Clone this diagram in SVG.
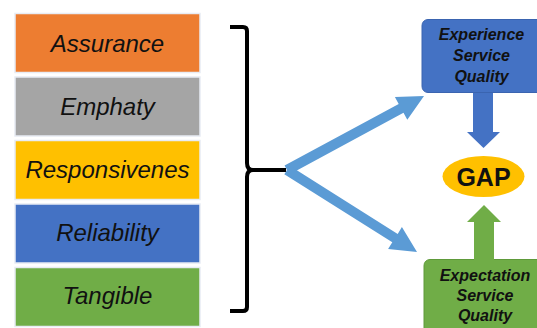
<svg xmlns="http://www.w3.org/2000/svg" width="537" height="328" viewBox="0 0 537 328">
<style>
.box{stroke:#E8ECF4;stroke-width:1.5}
.lt{font-family:"Liberation Sans",Arial,sans-serif;font-style:italic;font-size:24px;fill:#111;text-anchor:middle}
.rt{font-family:"Liberation Sans",Arial,sans-serif;font-style:italic;font-weight:bold;font-size:16px;fill:#111;text-anchor:middle}
.gap{font-family:"Liberation Sans",Arial,sans-serif;font-weight:bold;font-size:25px;fill:#111;text-anchor:middle}
</style>
<rect width="537" height="328" fill="#fff"/>
<g id="assurance"><rect class="box" x="15" y="13.5" width="185" height="59" fill="#ED7D31"/><text class="lt" x="107.5" y="51.5">Assurance</text></g>
<g id="emphaty"><rect class="box" x="15" y="77" width="185" height="59" fill="#A5A5A5"/><text class="lt" x="107.5" y="114.5">Emphaty</text></g>
<g id="responsivenes"><rect class="box" x="15" y="140.5" width="185" height="59" fill="#FFC000"/><text class="lt" x="107.5" y="177.5">Responsivenes</text></g>
<g id="reliability"><rect class="box" x="15" y="204" width="185" height="59" fill="#4472C4"/><text class="lt" x="107.5" y="241">Reliability</text></g>
<g id="tangible"><rect class="box" x="15" y="267.5" width="185" height="59" fill="#70AD47"/><text class="lt" x="107.5" y="304">Tangible</text></g>
<g id="experience"><rect x="422" y="19.5" width="122" height="73" rx="6" fill="#4472C4" stroke="#3A64B0" stroke-width="1"/><text class="rt" x="481.5" y="40">Experience</text><text class="rt" x="481.5" y="61">Service</text><text class="rt" x="481.5" y="82">Quality</text></g>
<g id="gap"><ellipse cx="483.5" cy="176.5" rx="41" ry="20.5" fill="#FFC000"/><text class="gap" x="483.5" y="185.5">GAP</text></g>
<g id="expectation"><rect x="424" y="259.5" width="122" height="75" rx="6" fill="#70AD47" stroke="#5E9A3A" stroke-width="1"/><text class="rt" x="485" y="280.5">Expectation</text><text class="rt" x="485" y="300.5">Service</text><text class="rt" x="485" y="320.5">Quality</text></g>
<g id="connectors">
<path d="M230,27 H243 Q247,27 247,31 V163 Q247,170 253,170 H286 M253,170 Q247,170 247,177 V307 Q247,311 243,311 H230" fill="none" stroke="#000" stroke-width="4"/>
<polygon points="284.6,165.6 398.7,103.95 394.9,96.9 424,96 407.3,119.8 403.5,112.75 289.4,174.4" fill="#5B9BD5"/>
<polygon points="289.7,165.8 397.7,233.9 401.9,227.1 417,252 388.1,249.1 392.3,242.3 284.3,174.2" fill="#5B9BD5"/>
<polygon points="473,93 493,93 493,132 500,132 483.5,148 467,132 473,132" fill="#4472C4"/>
<polygon points="474,260 494,260 494,222 501,222 484,205 467,222 474,222" fill="#70AD47"/>
</g>
</svg>
